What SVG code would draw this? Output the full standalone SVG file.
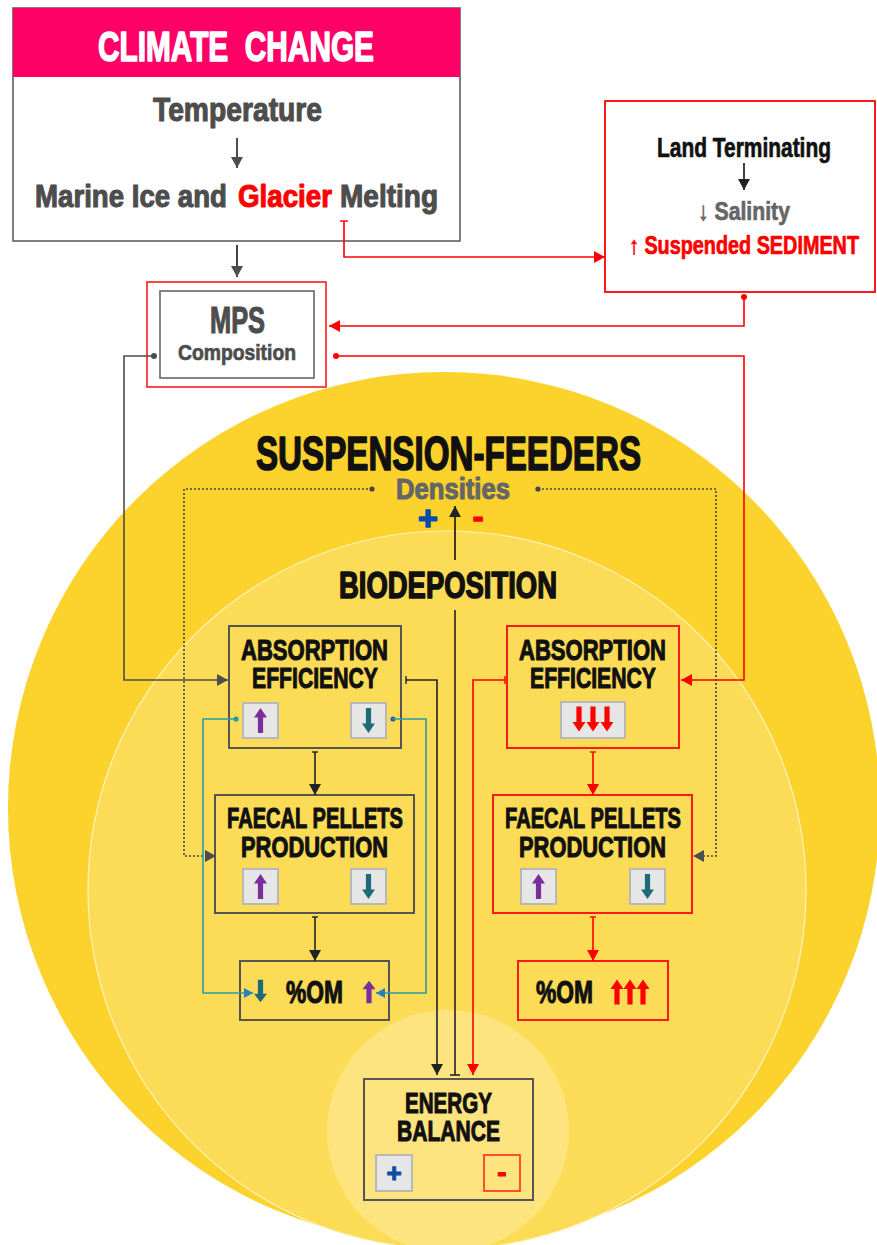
<svg xmlns="http://www.w3.org/2000/svg" width="877" height="1245" viewBox="0 0 877 1245">
<style>
.t{font-family:"Liberation Sans",Arial,sans-serif;font-weight:bold;stroke-width:1.1;stroke-linejoin:round}
.s{stroke-width:0.7}
.b{stroke-width:1.6}
.g{fill:#4d4d4d;stroke:#4d4d4d}
.k{fill:#111;stroke:#111}
.r{fill:#ff0000;stroke:#ff0000}
.w{fill:#fff;stroke:#fff}
.lg{fill:#666;stroke:#666}
.bl{fill:#0a4aa8;stroke:#0a4aa8}
.box{fill:none;stroke:#555;stroke-width:2}
.rbox{fill:none;stroke:#ff1a1a;stroke-width:2}
.ic{fill:#e6e6e6;stroke:#b8b8b8;stroke-width:2}
.ln{fill:none;stroke-width:1.6}
</style>
<defs>
<marker id="aK" viewBox="0 0 10 10" refX="10" refY="5" markerWidth="11" markerHeight="12" markerUnits="userSpaceOnUse" orient="auto" preserveAspectRatio="none"><path d="M0,0L10,5L0,10z" fill="#222"/></marker>
<marker id="aG" viewBox="0 0 10 10" refX="10" refY="5" markerWidth="11" markerHeight="12" markerUnits="userSpaceOnUse" orient="auto" preserveAspectRatio="none"><path d="M0,0L10,5L0,10z" fill="#4d4d4d"/></marker>
<marker id="aR" viewBox="0 0 10 10" refX="10" refY="5" markerWidth="11" markerHeight="12" markerUnits="userSpaceOnUse" orient="auto" preserveAspectRatio="none"><path d="M0,0L10,5L0,10z" fill="#ff0000"/></marker>
<marker id="aB" viewBox="0 0 10 10" refX="10" refY="5" markerWidth="9" markerHeight="10" markerUnits="userSpaceOnUse" orient="auto" preserveAspectRatio="none"><path d="M0,0L10,5L0,10z" fill="#2a7fbf"/></marker>
<path id="up" d="M0,-12.5L6.5,-3L2.6,-3L2.6,12.5L-2.6,12.5L-2.6,-3L-6.5,-3Z"/>
<path id="dn" d="M0,12.5L6.5,3L2.6,3L2.6,-12.5L-2.6,-12.5L-2.6,3L-6.5,3Z"/>
</defs>
<rect width="877" height="1245" fill="#fff"/>
<g id="background">
<circle cx="444" cy="808" r="436" fill="#fcd22c"/>
<circle cx="447" cy="890" r="359" fill="#fcdc56" stroke="#fff3c0" stroke-width="1.2"/>
<circle cx="448" cy="1131" r="121" fill="#fde47f"/>
</g>
<g id="climate-change">
<rect x="13" y="8" width="447" height="233" fill="#fff" stroke="#555" stroke-width="1.5"/>
<rect x="13" y="8" width="447" height="69" fill="#ff0066"/>
<text class="t w b" x="98" y="61" font-size="43" textLength="276" lengthAdjust="spacingAndGlyphs" xml:space="preserve">CLIMATE  CHANGE</text>
<text class="t g" x="153" y="121" font-size="33" textLength="169" lengthAdjust="spacingAndGlyphs">Temperature</text>
<line x1="237" y1="138" x2="237" y2="168" stroke="#4d4d4d" stroke-width="2" marker-end="url(#aG)"/>
<text class="t g" x="35" y="207" font-size="32" textLength="192" lengthAdjust="spacingAndGlyphs">Marine Ice and</text>
<text class="t r" x="238" y="207" font-size="32" textLength="94" lengthAdjust="spacingAndGlyphs">Glacier</text>
<text class="t g" x="340" y="207" font-size="32" textLength="98" lengthAdjust="spacingAndGlyphs">Melting</text>
</g>
<g id="land-terminating">
<rect x="605" y="101" width="270" height="191" fill="#fff" stroke="#ff1a1a" stroke-width="2"/>
<text class="t k s" x="657" y="157" font-size="28" textLength="174" lengthAdjust="spacingAndGlyphs">Land Terminating</text>
<line x1="744" y1="163" x2="744" y2="190" stroke="#111" stroke-width="1.6" marker-end="url(#aK)"/>
<text class="t lg s" x="698" y="220" font-size="26" textLength="92" lengthAdjust="spacingAndGlyphs">↓ Salinity</text>
<text class="t r s" x="629" y="254" font-size="25" textLength="230" lengthAdjust="spacingAndGlyphs">↑ Suspended SEDIMENT</text>
</g>
<g id="mps">
<rect x="147" y="282" width="179" height="105" fill="#fff" stroke="#ff1a1a" stroke-width="1.6"/>
<rect x="160" y="291" width="154" height="87" fill="#fff" stroke="#666" stroke-width="1.6"/>
<text class="t g" x="210" y="333" font-size="36" textLength="55" lengthAdjust="spacingAndGlyphs">MPS</text>
<text class="t g s" x="178" y="360" font-size="22" textLength="118" lengthAdjust="spacingAndGlyphs">Composition</text>
</g>
<g id="suspension-feeders">
<text class="t k b" x="256" y="470" font-size="49" textLength="385" lengthAdjust="spacingAndGlyphs">SUSPENSION-FEEDERS</text>
<text class="t lg" x="396" y="499" font-size="29" textLength="114" lengthAdjust="spacingAndGlyphs">Densities</text>
<text class="t bl b" x="428" y="530" font-size="34" text-anchor="middle">+</text>
<text class="t r b" x="478" y="527" font-size="32" text-anchor="middle">-</text>
</g>
<g id="biodeposition">
<text class="t k b" x="339" y="598" font-size="37" textLength="218" lengthAdjust="spacingAndGlyphs">BIODEPOSITION</text>
</g>
<g id="absorption-left">
<rect class="box" x="229" y="626" width="172" height="122"/>
<text class="t k" x="241" y="660" font-size="30" textLength="147" lengthAdjust="spacingAndGlyphs">ABSORPTION</text>
<text class="t k" x="252" y="688" font-size="30" textLength="126" lengthAdjust="spacingAndGlyphs">EFFICIENCY</text>
<rect class="ic" x="243" y="703" width="35" height="35"/>
<rect class="ic" x="351" y="703" width="35" height="35"/>
<use href="#up" x="260.5" y="720.5" fill="#7b2d9b"/>
<use href="#dn" x="368.5" y="720.5" fill="#1d6b78"/>
</g>
<g id="faecal-left">
<rect class="box" x="215" y="795" width="199" height="118"/>
<text class="t k" x="227" y="828" font-size="30" textLength="176" lengthAdjust="spacingAndGlyphs">FAECAL PELLETS</text>
<text class="t k" x="241" y="857" font-size="30" textLength="147" lengthAdjust="spacingAndGlyphs">PRODUCTION</text>
<rect class="ic" x="243" y="869" width="35" height="35"/>
<rect class="ic" x="351" y="869" width="35" height="35"/>
<use href="#up" x="260.5" y="886.5" fill="#7b2d9b"/>
<use href="#dn" x="368.5" y="886.5" fill="#1d6b78"/>
</g>
<g id="om-left">
<rect class="box" x="240" y="961" width="149" height="59"/>
<text class="t k" x="286" y="1003" font-size="32" textLength="57" lengthAdjust="spacingAndGlyphs">%OM</text>
<use href="#dn" x="260.5" y="991" fill="#1d6b78" transform="translate(260.5 991) scale(1 0.9) translate(-260.5 -991)"/>
<use href="#up" x="369" y="992" fill="#7b2d9b" transform="translate(369 992) scale(1 0.9) translate(-369 -992)"/>
</g>
<g id="absorption-right">
<rect class="rbox" x="507" y="626" width="172" height="122"/>
<text class="t k" x="519" y="660" font-size="30" textLength="147" lengthAdjust="spacingAndGlyphs">ABSORPTION</text>
<text class="t k" x="530" y="688" font-size="30" textLength="126" lengthAdjust="spacingAndGlyphs">EFFICIENCY</text>
<rect class="ic" x="561" y="702" width="64" height="36"/>
<g fill="#ff0000">
<use href="#dn" x="579" y="719"/>
<use href="#dn" x="593" y="719"/>
<use href="#dn" x="607" y="719"/>
</g>
</g>
<g id="faecal-right">
<rect class="rbox" x="493" y="795" width="199" height="118"/>
<text class="t k" x="505" y="828" font-size="30" textLength="176" lengthAdjust="spacingAndGlyphs">FAECAL PELLETS</text>
<text class="t k" x="519" y="857" font-size="30" textLength="147" lengthAdjust="spacingAndGlyphs">PRODUCTION</text>
<rect class="ic" x="521" y="869" width="35" height="35"/>
<rect class="ic" x="630" y="869" width="35" height="35"/>
<use href="#up" x="538.5" y="886.5" fill="#7b2d9b"/>
<use href="#dn" x="647.5" y="886.5" fill="#1d6b78"/>
</g>
<g id="om-right">
<rect class="rbox" x="518" y="961" width="150" height="59"/>
<text class="t k" x="536" y="1003" font-size="32" textLength="57" lengthAdjust="spacingAndGlyphs">%OM</text>
<g fill="#ff0000">
<use href="#up" x="617" y="992"/>
<use href="#up" x="630" y="992"/>
<use href="#up" x="643" y="992"/>
</g>
</g>
<g id="energy-balance">
<rect class="box" x="364" y="1079" width="169" height="121"/>
<text class="t k" x="405" y="1113" font-size="30" textLength="87" lengthAdjust="spacingAndGlyphs">ENERGY</text>
<text class="t k" x="397" y="1141" font-size="30" textLength="103" lengthAdjust="spacingAndGlyphs">BALANCE</text>
<rect class="ic" x="376" y="1155" width="36" height="36"/>
<rect x="484" y="1155" width="36" height="36" fill="none" stroke="#ff2a1a" stroke-width="1.6"/>
<text class="t bl" x="394" y="1182" font-size="26" text-anchor="middle">+</text>
<text class="t r" x="502" y="1182" font-size="28" text-anchor="middle">-</text>
</g>
<g id="connectors">
<line x1="237" y1="245" x2="237" y2="277" stroke="#444" stroke-width="2" marker-end="url(#aG)"/>
<line x1="340" y1="221" x2="348" y2="221" stroke="#ff0000" stroke-width="1.4"/>
<polyline class="ln" points="344,221 344,257 605,257" stroke="#ff0000" marker-end="url(#aR)"/>
<circle cx="744" cy="297" r="3" fill="#ff0000"/>
<polyline class="ln" points="744,297 744,326 329,326" stroke="#ff0000" marker-end="url(#aR)"/>
<circle cx="336" cy="356" r="3" fill="#ff0000"/>
<polyline class="ln" points="336,356 744,356 744,680 681,680" stroke="#ff0000" marker-end="url(#aR)"/>
<circle cx="154" cy="356" r="3" fill="#4d4d4d"/>
<polyline class="ln" points="154,356 124,356 124,680 228,680" stroke="#4d4d4d" marker-end="url(#aG)"/>
<circle cx="372" cy="489" r="2.6" fill="#444"/>
<polyline class="ln" points="372,489 184,489 184,856 216,856" stroke="#444" stroke-width="1.4" stroke-dasharray="2,2" marker-end="url(#aG)"/>
<circle cx="538" cy="489" r="2.6" fill="#444"/>
<polyline class="ln" points="538,489 716,489 716,856 693,856" stroke="#444" stroke-width="1.4" stroke-dasharray="2,2" marker-end="url(#aG)"/>
<line x1="455" y1="560" x2="455" y2="506" stroke="#111" stroke-width="1.6" marker-end="url(#aK)"/>
<line x1="455" y1="610" x2="455" y2="1075" stroke="#222" stroke-width="1.6"/>
<line x1="450" y1="1075" x2="460" y2="1075" stroke="#222" stroke-width="1.6"/>
<line x1="406" y1="676" x2="406" y2="684" stroke="#222" stroke-width="1.4"/>
<polyline class="ln" points="406,680 437,680 437,1075" stroke="#222" marker-end="url(#aK)"/>
<line x1="505" y1="676" x2="505" y2="684" stroke="#ff0000" stroke-width="1.4"/>
<polyline class="ln" points="505,680 473,680 473,1075" stroke="#ff0000" marker-end="url(#aR)"/>
<line x1="312" y1="752" x2="318" y2="752" stroke="#222" stroke-width="1.4"/>
<line x1="315" y1="752" x2="315" y2="795" stroke="#222" stroke-width="1.6" marker-end="url(#aK)"/>
<line x1="312" y1="917" x2="318" y2="917" stroke="#222" stroke-width="1.4"/>
<line x1="315" y1="917" x2="315" y2="961" stroke="#222" stroke-width="1.6" marker-end="url(#aK)"/>
<line x1="590" y1="752" x2="596" y2="752" stroke="#ff0000" stroke-width="1.4"/>
<line x1="593" y1="752" x2="593" y2="795" stroke="#ff0000" stroke-width="1.6" marker-end="url(#aR)"/>
<line x1="590" y1="917" x2="596" y2="917" stroke="#ff0000" stroke-width="1.4"/>
<line x1="593" y1="917" x2="593" y2="961" stroke="#ff0000" stroke-width="1.6" marker-end="url(#aR)"/>
<circle cx="236" cy="719" r="2.6" fill="#1a9ab0"/>
<polyline class="ln" points="236,719 203,719 203,993 253,993" stroke="#2f9aa6" stroke-width="1.4" marker-end="url(#aB)"/>
<circle cx="393" cy="719" r="2.6" fill="#2a5fb0"/>
<polyline class="ln" points="393,719 426,719 426,993 376,993" stroke="#2f9aa6" stroke-width="1.4" marker-end="url(#aB)"/>
</g>
</svg>
